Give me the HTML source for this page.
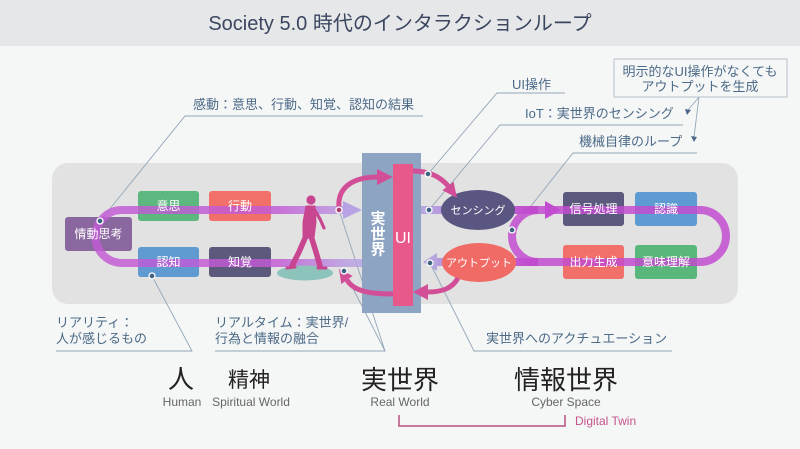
<!DOCTYPE html>
<html><head><meta charset="utf-8">
<style>
html,body{margin:0;padding:0;background:#f5f6f6;}
svg{display:block;}
text{font-family:"Liberation Sans","Noto Sans CJK JP",sans-serif;}
</style></head>
<body>
<svg width="800" height="449" viewBox="0 0 800 449" xmlns="http://www.w3.org/2000/svg">
<defs>
<linearGradient id="gl" gradientUnits="userSpaceOnUse" x1="280" y1="0" x2="355" y2="0">
<stop offset="0" stop-color="#c25ad6"/><stop offset="1" stop-color="#b7a3e3"/>
</linearGradient>
<linearGradient id="gr" gradientUnits="userSpaceOnUse" x1="425" y1="0" x2="530" y2="0">
<stop offset="0" stop-color="#b7a6e0"/><stop offset="1" stop-color="#c24ccf"/>
</linearGradient>
</defs>
<rect x="0" y="0" width="800" height="449" fill="#f5f6f6"/>
<rect x="0" y="0" width="800" height="46" fill="#e6e7e8"/>
<text x="400" y="30" font-size="20" fill="#3b4660" text-anchor="middle">Society 5.0 時代のインタラクションループ</text>

<!-- container -->
<rect x="52" y="163" width="686" height="141" rx="16" fill="#e2e2e2"/>

<!-- annotation lines -->
<g stroke="#93a6b8" stroke-width="0.9" fill="none">
<polyline points="423,116 185,116 100,221"/>
<polyline points="56,351 192,351 152,276"/>
<polyline points="215,351 385,351 339,210"/>
<polyline points="385,351 344,271"/>
<polyline points="672,351 474,351 430,263"/>
<polyline points="565,93 497,93 428,174"/>
<polyline points="683,125 500,125 429,210"/>
<polyline points="697,153 573,153 512,230"/>
<line x1="699" y1="97" x2="688" y2="110"/>
<line x1="699" y1="97" x2="694" y2="137"/>
</g>
<rect x="614" y="59" width="173" height="38" fill="none" stroke="#b3c0cc" stroke-width="1"/>
<polygon points="685,109 691,110 687,115" fill="#4c6a88"/>
<polygon points="691,136 697,137 694,142" fill="#4c6a88"/>

<!-- left boxes -->
<rect x="65" y="217" width="67" height="34" rx="3" fill="#8b679f"/>
<rect x="138" y="191" width="61" height="30" rx="3" fill="#5cb87f"/>
<rect x="209" y="191" width="62" height="30" rx="3" fill="#f2706a"/>
<rect x="138" y="247" width="61" height="30" rx="3" fill="#5f9ad1"/>
<rect x="209" y="247" width="62" height="30" rx="3" fill="#5b5a7c"/>

<!-- left loop -->
<path d="M344,210 H122 A26.5 26.5 0 0 0 122,263 H362" fill="none" stroke="url(#gl)" stroke-width="8" opacity="0.82"/>
<polygon points="343,201 362,210 343,219" fill="#b7a3e3"/>

<!-- person shadow + person -->
<ellipse cx="305" cy="273" rx="28" ry="7.5" fill="#8cc3bb"/>
<g fill="#c8458f" stroke="#c8458f" stroke-linecap="round" stroke-linejoin="round">
<circle cx="311" cy="200" r="4.6" stroke="none"/>
<polygon points="306,206 315,206 316,222 314,238 303,238 303,222" stroke-width="1"/>
<polyline points="314,209 320,219 324,228" fill="none" stroke-width="3.2"/>
<polyline points="306,236 299,252 292,266" fill="none" stroke-width="5.5"/>
<polyline points="311,236 316,252 320,266" fill="none" stroke-width="5.5"/>
<line x1="287" y1="268" x2="295" y2="267" stroke-width="3"/>
<line x1="318" y1="268" x2="326" y2="268" stroke-width="3"/>
</g>

<!-- right boxes -->
<rect x="563" y="192" width="61" height="34" rx="3" fill="#5b5a7e"/>
<rect x="635" y="192" width="62" height="34" rx="3" fill="#5e9bd2"/>
<rect x="563" y="245" width="61" height="34" rx="3" fill="#f2706a"/>
<rect x="635" y="245" width="62" height="34" rx="3" fill="#59b77b"/>

<!-- right stubs -->
<line x1="421" y1="210" x2="538" y2="210" stroke="url(#gr)" stroke-width="8"/>
<line x1="434" y1="262" x2="538" y2="262" stroke="url(#gr)" stroke-width="8"/>
<polygon points="423,262 437,253 437,271" fill="#b6a6e0"/>
<!-- right loop -->
<path d="M538,210 H700 A26 26 0 0 1 700,262 H538 A26 26 0 0 1 538,210 Z" fill="none" stroke="#c24ccf" stroke-width="8" opacity="0.85"/>
<polygon points="545,201 561,210 545,219" fill="#c24ccf"/>

<!-- ellipses -->
<ellipse cx="478" cy="210" rx="37" ry="20" fill="#5a5682"/>
<ellipse cx="479" cy="262.5" rx="37" ry="19.5" fill="#f06a66"/>

<!-- center boxes -->
<rect x="362" y="153" width="59" height="160" fill="#8ea4c3"/>
<rect x="393" y="164" width="20" height="142" fill="#e9588a"/>

<!-- pink arcs -->
<g fill="none" stroke="#d24f98" stroke-width="5">
<path d="M339,208 C337,188 352,177 378,177"/>
<path d="M413,171 C430,171 441,177 449,187"/>
<path d="M458,278 C452,289 441,292 428,292"/>
<path d="M393,294 C366,294 353,290 347,280"/>
</g>
<g fill="#d24f98">
<polygon points="377,169 393,177 377,185"/>
<polygon points="457,198 453.6,181.8 442.4,190.2"/>
<polygon points="428,284 413,292 428,300"/>
<polygon points="339,269 352.7,275.9 341.3,284.1"/>
</g>

<!-- dots -->
<g stroke="#ffffff" stroke-width="1.3" fill="#3e6482">
<circle cx="100" cy="221" r="3"/>
<circle cx="152" cy="276" r="3"/>
<circle cx="339" cy="210" r="3" fill="#a8406f"/>
<circle cx="344" cy="271" r="3"/>
<circle cx="428" cy="174" r="3"/>
<circle cx="429" cy="210" r="3"/>
<circle cx="430" cy="263" r="3"/>
<circle cx="512" cy="230" r="3"/>
</g>

<!-- box labels -->
<g fill="#ffffff" font-size="12" text-anchor="middle">
<text x="98.5" y="238">情動思考</text>
<text x="168.5" y="210">意思</text>
<text x="240" y="210">行動</text>
<text x="168.5" y="266">認知</text>
<text x="240" y="266">知覚</text>
<text x="593.5" y="213">信号処理</text>
<text x="666" y="213">認識</text>
<text x="593.5" y="266">出力生成</text>
<text x="666" y="266">意味理解</text>
<text x="478" y="214" font-size="11">センシング</text>
<text x="479" y="266.5" font-size="11">アウトプット</text>
<text x="378" y="223.5" font-size="15" font-weight="bold">実</text>
<text x="378" y="239" font-size="15" font-weight="bold">世</text>
<text x="378" y="254.5" font-size="15" font-weight="bold">界</text>
<text x="403" y="243" font-size="16">UI</text>
</g>

<!-- annotation labels -->
<g fill="#4c6a88" font-size="13">
<text x="193" y="109">感動：意思、行動、知覚、認知の結果</text>
<text x="512" y="89">UI操作</text>
<text x="525" y="118">IoT：実世界のセンシング</text>
<text x="579" y="146">機械自律のループ</text>
<text x="700" y="76" text-anchor="middle">明示的なUI操作がなくても</text>
<text x="700" y="91" text-anchor="middle">アウトプットを生成</text>
<text x="56" y="327">リアリティ：</text>
<text x="56" y="343">人が感じるもの</text>
<text x="215" y="327">リアルタイム：実世界/</text>
<text x="215" y="343">行為と情報の融合</text>
<text x="486" y="343">実世界へのアクチュエーション</text>
</g>

<!-- bottom labels -->
<g fill="#222222" text-anchor="middle">
<text x="181" y="388" font-size="26">人</text>
<text x="249" y="387" font-size="21">精神</text>
<text x="400" y="389" font-size="26">実世界</text>
<text x="566" y="389" font-size="26">情報世界</text>
</g>
<g fill="#666666" font-size="12" text-anchor="middle">
<text x="182" y="406">Human</text>
<text x="251" y="406">Spiritual World</text>
<text x="400" y="406">Real World</text>
<text x="566" y="406">Cyber Space</text>
</g>
<path d="M399,415 V426 H565 V415" fill="none" stroke="#b5507f" stroke-width="1.5"/>
<text x="575" y="425" font-size="12" fill="#c4548a">Digital Twin</text>
</svg>
</body></html>
